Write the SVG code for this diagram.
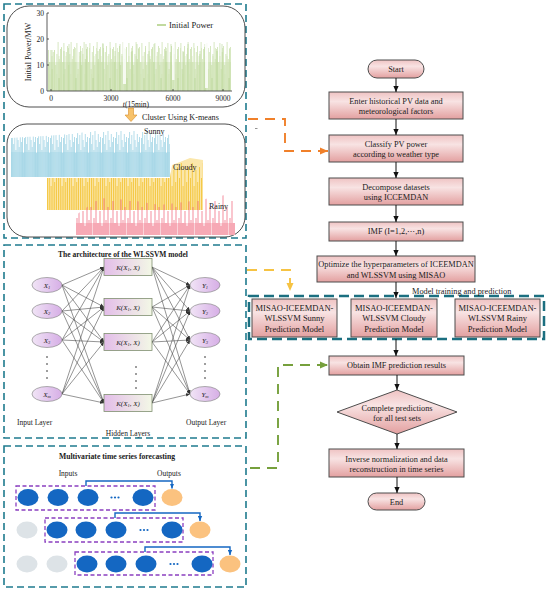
<svg xmlns="http://www.w3.org/2000/svg" width="550" height="593" viewBox="0 0 550 593">
<defs>
<style>
.tl{fill:none;stroke:#1f7b8e;stroke-width:1.6;stroke-dasharray:7 4}
.rr{fill:none;stroke:#3a3a3a;stroke-width:0.9}
.fb{fill:url(#gPink);stroke:#4d4d4d;stroke-width:1}
.ft{font-family:"Liberation Serif","Times New Roman",serif;font-size:8.3px;fill:#1a1a1a;text-anchor:middle}
.mt{font-family:"Liberation Serif","Times New Roman",serif;font-size:8.5px;fill:#1a1a1a;text-anchor:middle}
.sf{font-family:"Liberation Serif","Times New Roman",serif;fill:#1a1a1a}
.fa{stroke:#111;stroke-width:1;fill:none;marker-end:url(#mk)}
.nl{stroke:#3d3d3d;stroke-width:0.55;marker-end:url(#mkS)}
.inn{fill:url(#gPurp);stroke:#8c8c8c;stroke-width:0.7}
.hb{fill:url(#gHid);stroke:#7f8f70;stroke-width:0.8}
.bl{fill:#1467c2}
.gr{fill:#dde3e7}
.or{fill:#fbc27f}
.pd{fill:none;stroke:#8b3fc0;stroke-width:1.3;stroke-dasharray:4 2.5}
.ba{fill:none;stroke:#1467c2;stroke-width:1.4;marker-end:url(#mkB)}
.dc{fill:none;stroke-width:1.9;stroke-dasharray:10 7}
.nt{font-family:"Liberation Serif","Times New Roman",serif;font-size:7px;font-style:italic;fill:#222;text-anchor:middle}
</style>
<linearGradient id="gPink" x1="0" y1="0" x2="0" y2="1">
<stop offset="0" stop-color="#efc3c3"/><stop offset="0.35" stop-color="#f8e3e3"/><stop offset="1" stop-color="#e3a0a0"/>
</linearGradient>
<linearGradient id="gPurp" x1="0" y1="0" x2="1" y2="0">
<stop offset="0" stop-color="#f1e4f6"/><stop offset="1" stop-color="#d6aee6"/>
</linearGradient>
<linearGradient id="gHid" x1="0" y1="0" x2="1" y2="0">
<stop offset="0" stop-color="#e3bde9"/><stop offset="1" stop-color="#f3f8e6"/>
</linearGradient>
<marker id="mk" viewBox="0 0 8 8" refX="8" refY="4" markerWidth="6" markerHeight="6" markerUnits="userSpaceOnUse" orient="auto"><path d="M0,0.5 L8,4 L0,7.5 z" fill="#111"/></marker>
<marker id="mkS" viewBox="0 0 8 8" refX="8" refY="4" markerWidth="4" markerHeight="4" markerUnits="userSpaceOnUse" orient="auto"><path d="M0,0.5 L8,4 L0,7.5 z" fill="#333"/></marker>
<marker id="mkB" viewBox="0 0 8 8" refX="8" refY="4" markerWidth="5" markerHeight="5" markerUnits="userSpaceOnUse" orient="auto"><path d="M0,0.5 L8,4 L0,7.5 z" fill="#1467c2"/></marker>
<marker id="mkO" viewBox="0 0 8 8" refX="8" refY="4" markerWidth="9" markerHeight="8" markerUnits="userSpaceOnUse" orient="auto"><path d="M0,0.5 L8,4 L0,7.5 z" fill="#f0802a"/></marker>
<marker id="mkY" viewBox="0 0 8 8" refX="8" refY="4" markerWidth="9" markerHeight="8" markerUnits="userSpaceOnUse" orient="auto"><path d="M0,0.5 L8,4 L0,7.5 z" fill="#f6c343"/></marker>
<marker id="mkG" viewBox="0 0 8 8" refX="8" refY="4" markerWidth="9" markerHeight="8" markerUnits="userSpaceOnUse" orient="auto"><path d="M0,0.5 L8,4 L0,7.5 z" fill="#76a03c"/></marker>
<pattern id="pg1" patternUnits="userSpaceOnUse" x="48" y="38" width="13" height="53"><path d="M0.5,53V9M1.7,53V24M2.9,53V5M4.1,53V31M5.3,53V14M6.5,53V8M7.7,53V27M8.9,53V16M10.1,53V4M11.3,53V21M12.5,53V11" stroke="#bcd897" stroke-width="0.6"/></pattern>
<pattern id="pg2" patternUnits="userSpaceOnUse" x="51" y="38" width="7" height="53"><path d="M1,53V18M3.5,53V10M5.8,53V36" stroke="#cfe3b2" stroke-width="0.6"/></pattern>
<pattern id="pg3" patternUnits="userSpaceOnUse" x="50" y="38" width="17" height="53"><path d="M2,53V6M9,53V40M14,53V13" stroke="#a9cc7e" stroke-width="0.5"/></pattern>
<pattern id="pb" patternUnits="userSpaceOnUse" x="11" y="128" width="13" height="49"><path d="M0.5,49V10M1.6,49V4M2.7,49V16M3.8,49V7M4.9,49V22M6,49V3M7.1,49V12M8.2,49V19M9.3,49V6M10.4,49V14M11.5,49V9M12.6,49V25" stroke="#93cfe1" stroke-width="0.7"/></pattern>
<pattern id="py" patternUnits="userSpaceOnUse" x="47" y="158" width="11" height="52"><path d="M0.5,52V20M2.3,52V5M4.1,52V28M5.9,52V12M7.7,52V24M9.5,52V9" stroke="#f3c22e" stroke-width="0.8"/></pattern>
<pattern id="pr" patternUnits="userSpaceOnUse" x="76" y="193" width="17" height="42"><path d="M1,42V25M3,42V8M5,42V30M7,42V18M9,42V33M11,42V2M13,42V27M15,42V14" stroke="#ef5b73" stroke-width="0.7"/></pattern>
</defs>
<rect width="550" height="593" fill="#ffffff"/>

<!-- Panel 1: initial power and clustering -->
<g id="panel-power">
<rect class="tl" x="4" y="4" width="242" height="234"/>
<rect class="rr" x="7" y="6" width="238" height="101" rx="22"/>
<rect x="48" y="62" width="183" height="29" fill="#ebf3e1"/>
<rect x="48" y="38" width="183" height="53" fill="url(#pg1)"/>
<rect x="48" y="38" width="183" height="53" fill="url(#pg2)"/>
<rect x="48" y="38" width="183" height="53" fill="url(#pg3)"/>
<rect x="48" y="38" width="9" height="12" fill="#fff"/>
<rect x="123" y="38" width="3" height="46" fill="#fff" opacity="0.8"/>
<rect x="172" y="38" width="2.5" height="42" fill="#fff" opacity="0.8"/>
<rect x="205" y="38" width="3" height="50" fill="#fff" opacity="0.8"/>
<path d="M47,13V91H232" fill="none" stroke="#333" stroke-width="0.8"/>
<path d="M47,13h2M47,39h2M47,65h2M51,91v-2M111,91v-2M173,91v-2M223,91v-2" stroke="#333" stroke-width="0.8"/>
<g class="sf" font-size="7.5" text-anchor="end">
<text x="44" y="16">30</text><text x="44" y="42">20</text><text x="44" y="68">10</text><text x="44" y="94">0</text>
</g>
<g class="sf" font-size="7.5" text-anchor="middle">
<text x="51" y="100.5">0</text><text x="111" y="100.5">3000</text><text x="173" y="100.5">6000</text><text x="223" y="100.5">9000</text>
<text x="136" y="106.5"><tspan font-style="italic">t</tspan>(15min)</text>
</g>
<text class="sf" font-size="8" text-anchor="middle" transform="translate(31,52) rotate(-90)">Initial Power/MW</text>
<line x1="157" y1="25" x2="166" y2="25" stroke="#b1d187" stroke-width="1.6"/>
<text class="sf" x="169" y="28" font-size="8.5">Initial Power</text>
<path d="M128.5,108H133.5V115H137L131,121.5L125,115H128.5Z" fill="#f7c26b" stroke="#d88d2a" stroke-width="0.6"/>
<text class="sf" x="142" y="120" font-size="8.2">Cluster Using K-means</text>
<rect class="rr" x="7" y="124" width="238" height="113" rx="20"/>
<path d="M47,210V178H170L172,165L180,162L190,158L203,160V210Z" fill="#fbe7ab"/>
<path d="M47,210V178H170L172,165L180,162L190,158L203,160V210Z" fill="url(#py)"/>
<path d="M11,177V138L25,137L45,136L70,134L95,131L120,130L145,128L160,133L170,135V177Z" fill="#fff"/>
<path d="M11,177V152H170V177Z" fill="#dcf0f6"/>
<path d="M11,177V138L25,137L45,136L70,134L95,131L120,130L145,128L160,133L170,135V177Z" fill="url(#pb)"/>
<path d="M76,235V223H235V235Z" fill="#fad3d9"/>
<path d="M76,235V215L90,205L100,198L130,200L160,205L200,200L235,193V235Z" fill="url(#pr)"/>
<text class="sf" x="144" y="134" font-size="8">Sunny</text>
<text class="sf" x="173" y="170" font-size="8">Cloudy</text>
<text class="sf" x="209" y="209" font-size="8">Rainy</text>
</g>

<!-- Panel 2: WLSSVM architecture -->
<g id="panel-wlssvm">
<rect class="tl" x="4" y="245" width="242" height="193"/>
<text class="sf" x="123" y="256.5" font-size="7.5" font-weight="bold" text-anchor="middle">The architecture of the WLSSVM model</text>
<g id="net-lines">
<line class="nl" x1="62" y1="285" x2="104" y2="267"/><line class="nl" x1="62" y1="285" x2="104" y2="307"/><line class="nl" x1="62" y1="285" x2="104" y2="342"/><line class="nl" x1="62" y1="285" x2="104" y2="403"/>
<line class="nl" x1="62" y1="311" x2="104" y2="267"/><line class="nl" x1="62" y1="311" x2="104" y2="307"/><line class="nl" x1="62" y1="311" x2="104" y2="342"/><line class="nl" x1="62" y1="311" x2="104" y2="403"/>
<line class="nl" x1="62" y1="340" x2="104" y2="267"/><line class="nl" x1="62" y1="340" x2="104" y2="307"/><line class="nl" x1="62" y1="340" x2="104" y2="342"/><line class="nl" x1="62" y1="340" x2="104" y2="403"/>
<line class="nl" x1="62" y1="394" x2="104" y2="267"/><line class="nl" x1="62" y1="394" x2="104" y2="307"/><line class="nl" x1="62" y1="394" x2="104" y2="342"/><line class="nl" x1="62" y1="394" x2="104" y2="403"/>
<line class="nl" x1="152" y1="267" x2="190" y2="285"/><line class="nl" x1="152" y1="267" x2="190" y2="311"/><line class="nl" x1="152" y1="267" x2="190" y2="340"/><line class="nl" x1="152" y1="267" x2="190" y2="394"/>
<line class="nl" x1="152" y1="307" x2="190" y2="285"/><line class="nl" x1="152" y1="307" x2="190" y2="311"/><line class="nl" x1="152" y1="307" x2="190" y2="340"/><line class="nl" x1="152" y1="307" x2="190" y2="394"/>
<line class="nl" x1="152" y1="342" x2="190" y2="285"/><line class="nl" x1="152" y1="342" x2="190" y2="311"/><line class="nl" x1="152" y1="342" x2="190" y2="340"/><line class="nl" x1="152" y1="342" x2="190" y2="394"/>
<line class="nl" x1="152" y1="403" x2="190" y2="285"/><line class="nl" x1="152" y1="403" x2="190" y2="311"/><line class="nl" x1="152" y1="403" x2="190" y2="340"/><line class="nl" x1="152" y1="403" x2="190" y2="394"/>
</g>
<g id="in-x1"><ellipse class="inn" cx="47" cy="285" rx="15" ry="7.5"/><text class="nt" x="47" y="287.5">X<tspan font-size="4.5" dy="1.5">1</tspan></text></g>
<g id="in-x2"><ellipse class="inn" cx="47" cy="311" rx="15" ry="7.5"/><text class="nt" x="47" y="313.5">X<tspan font-size="4.5" dy="1.5">2</tspan></text></g>
<g id="in-x3"><ellipse class="inn" cx="47" cy="340" rx="15" ry="7.5"/><text class="nt" x="47" y="342.5">X<tspan font-size="4.5" dy="1.5">3</tspan></text></g>
<g id="in-xm"><ellipse class="inn" cx="47" cy="394" rx="15" ry="7.5"/><text class="nt" x="47" y="396.5">X<tspan font-size="4.5" dy="1.5">m</tspan></text></g>
<g id="out-y1"><ellipse class="inn" cx="205" cy="285" rx="15" ry="7.5"/><text class="nt" x="205" y="287.5">Y<tspan font-size="4.5" dy="1.5">1</tspan></text></g>
<g id="out-y2"><ellipse class="inn" cx="205" cy="311" rx="15" ry="7.5"/><text class="nt" x="205" y="313.5">Y<tspan font-size="4.5" dy="1.5">2</tspan></text></g>
<g id="out-y3"><ellipse class="inn" cx="205" cy="340" rx="15" ry="7.5"/><text class="nt" x="205" y="342.5">Y<tspan font-size="4.5" dy="1.5">3</tspan></text></g>
<g id="out-ym"><ellipse class="inn" cx="205" cy="394" rx="15" ry="7.5"/><text class="nt" x="205" y="396.5">Y<tspan font-size="4.5" dy="1.5">m</tspan></text></g>
<g id="hid-1"><rect class="hb" x="104" y="258.5" width="48" height="17"/><text class="nt" x="128" y="269.5">K(X<tspan font-size="4.5" dy="1.5">1</tspan><tspan dy="-1.5">, X)</tspan></text></g>
<g id="hid-2"><rect class="hb" x="104" y="298.5" width="48" height="17"/><text class="nt" x="128" y="309.5">K(X<tspan font-size="4.5" dy="1.5">1</tspan><tspan dy="-1.5">, X)</tspan></text></g>
<g id="hid-3"><rect class="hb" x="104" y="333.5" width="48" height="17"/><text class="nt" x="128" y="344.5">K(X<tspan font-size="4.5" dy="1.5">1</tspan><tspan dy="-1.5">, X)</tspan></text></g>
<g id="hid-4"><rect class="hb" x="104" y="394.5" width="48" height="17"/><text class="nt" x="128" y="405.5">K(X<tspan font-size="4.5" dy="1.5">1</tspan><tspan dy="-1.5">, X)</tspan></text></g>
<g fill="#222">
<circle cx="47" cy="357" r="0.8"/><circle cx="47" cy="364" r="0.8"/><circle cx="47" cy="371" r="0.8"/><circle cx="47" cy="378" r="0.8"/>
<circle cx="205" cy="357" r="0.8"/><circle cx="205" cy="364" r="0.8"/><circle cx="205" cy="371" r="0.8"/><circle cx="205" cy="378" r="0.8"/>
<circle cx="136" cy="367" r="0.8"/><circle cx="136" cy="374" r="0.8"/><circle cx="136" cy="381" r="0.8"/><circle cx="136" cy="388" r="0.8"/>
</g>
<text class="sf" x="17" y="425" font-size="7.5">Input Layer</text>
<text class="sf" x="186" y="425" font-size="7.5">Output Layer</text>
<text class="sf" x="128" y="435.5" font-size="7.5" text-anchor="middle">Hidden Layers</text>
</g>

<!-- Panel 3: multivariate forecasting -->
<g id="panel-multivariate">
<rect class="tl" x="4" y="446" width="242" height="141"/>
<text class="sf" x="117" y="459" font-size="7.7" font-weight="bold" text-anchor="middle">Multivariate time series forecasting</text>
<text class="sf" x="68" y="476" font-size="7.5" text-anchor="middle">Inputs</text>
<text class="sf" x="169" y="476" font-size="7.5" text-anchor="middle">Outputs</text>
<g id="row1">
<rect class="pd" x="16" y="486" width="139" height="24"/>
<ellipse class="bl" cx="28" cy="497.5" rx="10.5" ry="8.5"/><ellipse class="bl" cx="58" cy="497.5" rx="10.5" ry="8.5"/><ellipse class="bl" cx="88" cy="497.5" rx="10.5" ry="8.5"/><ellipse class="bl" cx="143" cy="497.5" rx="10.5" ry="8.5"/>
<circle class="bl" cx="111.5" cy="497.5" r="1.1"/><circle class="bl" cx="115" cy="497.5" r="1.1"/><circle class="bl" cx="118.5" cy="497.5" r="1.1"/>
<ellipse class="or" cx="172" cy="497.5" rx="10.5" ry="8.5"/>
<path class="ba" d="M86,486V481H172V488.5"/>
</g>
<g id="row2">
<ellipse class="gr" cx="27" cy="530" rx="10.5" ry="8.5"/>
<rect class="pd" x="45" y="518" width="138" height="24"/>
<ellipse class="bl" cx="57" cy="530" rx="10.5" ry="8.5"/><ellipse class="bl" cx="86" cy="530" rx="10.5" ry="8.5"/><ellipse class="bl" cx="116" cy="530" rx="10.5" ry="8.5"/><ellipse class="bl" cx="172" cy="530" rx="10.5" ry="8.5"/>
<circle class="bl" cx="140.5" cy="530" r="1.1"/><circle class="bl" cx="144" cy="530" r="1.1"/><circle class="bl" cx="147.5" cy="530" r="1.1"/>
<ellipse class="or" cx="200" cy="530" rx="10.5" ry="8.5"/>
<path class="ba" d="M115,518V513H200V521"/>
</g>
<g id="row3">
<ellipse class="gr" cx="27" cy="564" rx="10.5" ry="8.5"/><ellipse class="gr" cx="57" cy="564" rx="10.5" ry="8.5"/>
<rect class="pd" x="75" y="552" width="138" height="23"/>
<ellipse class="bl" cx="87" cy="564" rx="10.5" ry="8.5"/><ellipse class="bl" cx="116" cy="564" rx="10.5" ry="8.5"/><ellipse class="bl" cx="146" cy="564" rx="10.5" ry="8.5"/><ellipse class="bl" cx="202" cy="564" rx="10.5" ry="8.5"/>
<circle class="bl" cx="170.5" cy="564" r="1.1"/><circle class="bl" cx="174" cy="564" r="1.1"/><circle class="bl" cx="177.5" cy="564" r="1.1"/>
<ellipse class="or" cx="230" cy="564" rx="10.5" ry="8.5"/>
<path class="ba" d="M145,552V547H230V555"/>
</g>
</g>

<!-- Flowchart nodes -->
<g id="start"><rect class="fb" x="368" y="60" width="56" height="18" rx="9"/><text class="ft" x="396" y="72">Start</text></g>
<g id="enter"><rect class="fb" x="329" y="92" width="134" height="27"/><text class="ft" x="396" y="104">Enter historical PV data and</text><text class="ft" x="396" y="114">meteorological factors</text></g>
<g id="classify"><rect class="fb" x="329" y="135" width="134" height="27"/><text class="ft" x="396" y="147">Classify PV power</text><text class="ft" x="396" y="157">according to weather type</text></g>
<g id="decompose"><rect class="fb" x="329" y="178" width="134" height="27"/><text class="ft" x="396" y="190">Decompose datasets</text><text class="ft" x="396" y="200">using ICCEMDAN</text></g>
<g id="imf"><rect class="fb" x="329" y="222" width="134" height="19"/><text class="ft" x="396" y="234">IMF (I=1,2,⋯,n)</text></g>
<g id="optimize"><rect class="fb" x="317" y="256" width="158" height="26"/><text class="ft" x="396" y="267">Optimize the hyperparameters of ICEEMDAN</text><text class="ft" x="396" y="278">and WLSSVM using MISAO</text></g>
<g id="model-group">
<rect x="249" y="296" width="295" height="43" fill="none" stroke="#1b6f80" stroke-width="2.5" stroke-dasharray="10 5"/>
<text class="sf" x="412" y="294" font-size="8.3">Model training and prediction</text>
</g>
<g id="sunny"><rect class="fb" x="252" y="299" width="85" height="38"/><text class="mt" x="294.5" y="310.5">MISAO-ICEEMDAN-</text><text class="mt" x="294.5" y="321">WLSSVM Sunny</text><text class="mt" x="294.5" y="331.5">Prediction Model</text></g>
<g id="cloudy"><rect class="fb" x="351" y="299" width="86" height="38"/><text class="mt" x="394" y="310.5">MISAO-ICEEMDAN-</text><text class="mt" x="394" y="321">WLSSVM Cloudy</text><text class="mt" x="394" y="331.5">Prediction Model</text></g>
<g id="rainy"><rect class="fb" x="455" y="299" width="85" height="38"/><text class="mt" x="497.5" y="310.5">MISAO-ICEEMDAN-</text><text class="mt" x="497.5" y="321">WLSSVM Rainy</text><text class="mt" x="497.5" y="331.5">Prediction Model</text></g>
<g id="obtain"><rect class="fb" x="329" y="356" width="135" height="19"/><text class="ft" x="396.5" y="368">Obtain IMF prediction results</text></g>
<g id="complete"><path class="fb" d="M397,390L457,412L397,434L337,412Z"/><text class="ft" x="397" y="411">Complete predictions</text><text class="ft" x="397" y="421">for all test sets</text></g>
<g id="inverse"><rect class="fb" x="329" y="449" width="135" height="28"/><text class="ft" x="396.5" y="461.5">Inverse normalization and data</text><text class="ft" x="396.5" y="471.5">reconstruction in time series</text></g>
<g id="end"><rect class="fb" x="368" y="493" width="57" height="17" rx="8.5"/><text class="ft" x="396.5" y="504.5">End</text></g>

<!-- Connectors -->
<g id="connectors">
<line class="fa" x1="396" y1="78" x2="396" y2="92"/>
<line class="fa" x1="396" y1="119" x2="396" y2="135"/>
<line class="fa" x1="396" y1="162" x2="396" y2="178"/>
<line class="fa" x1="396" y1="205" x2="396" y2="222"/>
<line class="fa" x1="396" y1="241" x2="396" y2="256"/>
<line class="fa" x1="396" y1="282" x2="396" y2="298"/>
<line class="fa" x1="396" y1="339" x2="396" y2="356"/>
<line class="fa" x1="397" y1="375" x2="397" y2="390"/>
<line class="fa" x1="397" y1="434" x2="397" y2="449"/>
<line class="fa" x1="397" y1="477" x2="397" y2="493"/>
<path class="dc" d="M248,119H285V151H328" stroke="#f0802a" marker-end="url(#mkO)"/>
<path class="dc" d="M247,270H290V291" stroke="#f6c343" marker-end="url(#mkY)"/>
<path class="dc" d="M250,468H278V365H328" stroke="#76a03c" marker-end="url(#mkG)"/>
<line x1="255" y1="128.5" x2="257.5" y2="128.5" stroke="#777" stroke-width="0.8"/>
</g>
</svg>
